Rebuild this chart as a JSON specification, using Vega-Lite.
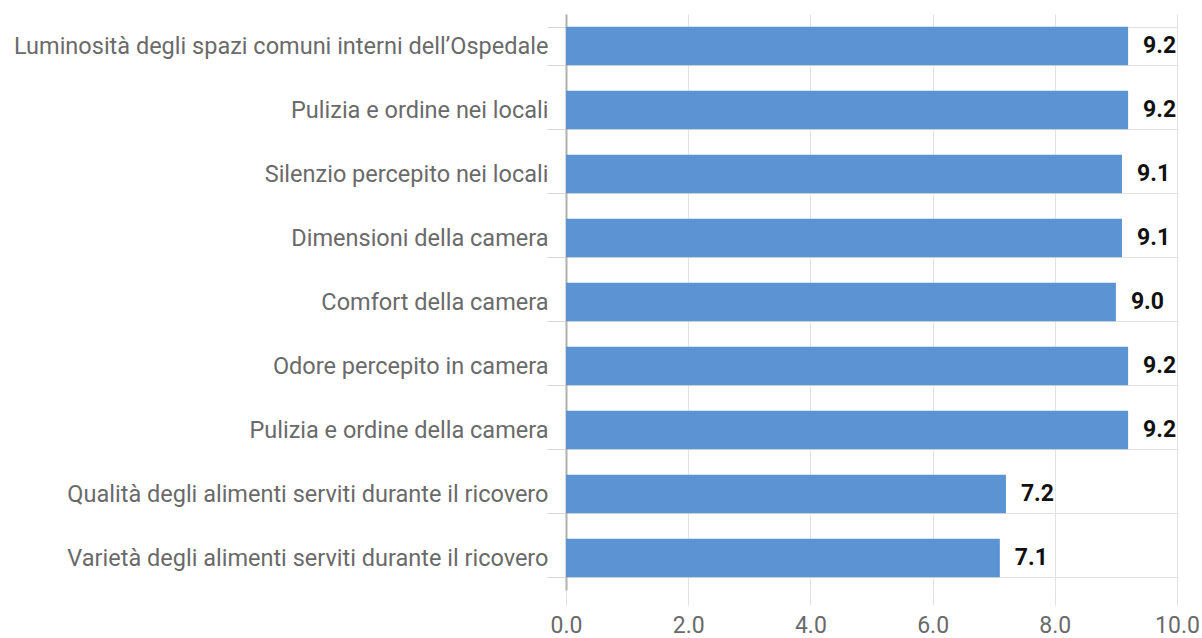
{
  "$schema": "https://vega.github.io/schema/vega-lite/v6.json",
  "autosize": "none",
  "padding": {"left": 566, "top": 14, "right": 25, "bottom": 48},
  "width": 611,
  "height": 576,
  "background": "white",
  "config": {"view": {"stroke": null}, "font": "Roboto"},
  "data": {"values": [
    {"voce": "Luminosità degli spazi comuni interni dell’Ospedale", "valore": 9.2},
    {"voce": "Pulizia e ordine nei locali", "valore": 9.2},
    {"voce": "Silenzio percepito nei locali", "valore": 9.1},
    {"voce": "Dimensioni della camera", "valore": 9.1},
    {"voce": "Comfort della camera", "valore": 9.0},
    {"voce": "Odore percepito in camera", "valore": 9.2},
    {"voce": "Pulizia e ordine della camera", "valore": 9.2},
    {"voce": "Qualità degli alimenti serviti durante il ricovero", "valore": 7.2},
    {"voce": "Varietà degli alimenti serviti durante il ricovero", "valore": 7.1}
  ]},
  "encoding": {
    "y": {
      "field": "voce", "type": "nominal", "sort": null, "title": null,
      "scale": {"paddingInner": 0.4, "paddingOuter": 0.2},
      "axis": {
        "tickBand": "extent", "grid": true, "gridColor": "#e2e2e2",
        "tickColor": "#d6d6d6", "tickSize": 19, "labelPadding": -1,
        "domain": true, "domainColor": "#b0b0b0", "domainWidth": 2,
        "labelFont": "Roboto", "labelFontSize": 23.5, "labelColor": "#6a6a6a",
        "labelLimit": 600
      }
    },
    "x": {
      "field": "valore", "type": "quantitative", "title": null,
      "scale": {"domain": [0, 10], "nice": false},
      "axis": {
        "values": [0, 2, 4, 6, 8, 10], "format": ".1f", "grid": true,
        "gridColor": "#e2e2e2", "tickColor": "#e2e2e2", "tickSize": 15,
        "labelPadding": 9, "domain": false,
        "labelFont": "Roboto", "labelFontSize": 23, "labelColor": "#6a6a6a",
        "labelFlush": false
      }
    }
  },
  "layer": [
    {"mark": {"type": "bar", "color": "#5b93d3"}},
    {
      "mark": {"type": "text", "align": "left", "dx": 15, "fontSize": 23, "fontWeight": "bold", "font": "Roboto", "color": "#111111"},
      "encoding": {"text": {"field": "valore", "type": "quantitative", "format": ".1f"}}
    }
  ]
}
